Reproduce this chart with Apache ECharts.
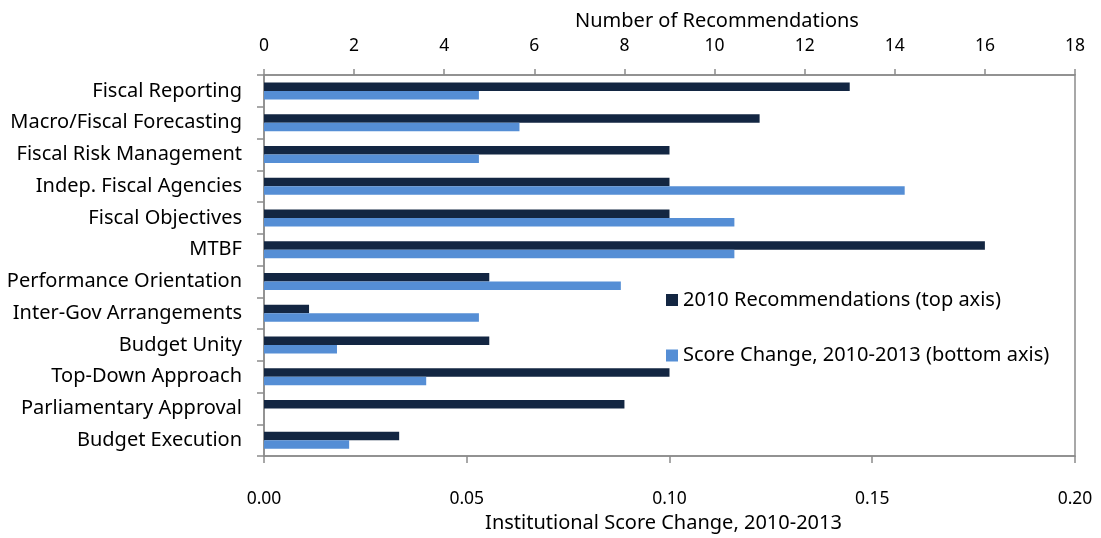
<!DOCTYPE html>
<html>
<head>
<meta charset="utf-8">
<script src="https://cdn.jsdelivr.net/npm/echarts@6/dist/echarts.min.js"></script>
<style>html,body{margin:0;padding:0;background:#fff;}#c{width:1101px;height:538px;}</style>
</head>
<body>
<div id="c"></div>
<script>
const categories = ["Fiscal Reporting","Macro/Fiscal Forecasting","Fiscal Risk Management","Indep. Fiscal Agencies","Fiscal Objectives","MTBF","Performance Orientation","Inter-Gov Arrangements","Budget Unity","Top-Down Approach","Parliamentary Approval","Budget Execution"];
const recommendations2010 = [13, 11, 9, 9, 9, 16, 5, 1, 5, 9, 8, 3];
const scoreChange = [0.053, 0.063, 0.053, 0.158, 0.116, 0.116, 0.088, 0.053, 0.018, 0.040, 0, 0.021];
const topTicks = {min: 0, max: 18, interval: 2};
const bottomTicks = {min: 0, max: 0.2, interval: 0.05};

const FONT = "Noto Sans";
const chart = echarts.init(document.getElementById('c'), null, {renderer: 'canvas'});
const axisLineStyle = {color: '#8c8c8c', width: 1.5};
chart.setOption({
  animation: false,
  textStyle: {fontFamily: FONT},
  grid: {left: 264, right: 26, top: 75, bottom: 73, show: true, borderColor: '#8c8c8c', borderWidth: 1.5},
  legend: {
    orient: 'vertical', left: 661, top: 285, itemGap: 35.5, itemWidth: 12, itemHeight: 12, icon: 'rect',
    itemStyle: {borderWidth: 0},
    textStyle: {fontFamily: FONT, fontSize: 20, color: '#000'},
    data: ['2010 Recommendations (top axis)', 'Score Change, 2010-2013 (bottom axis)']
  },
  xAxis: [
    {type: 'value', position: 'top', min: topTicks.min, max: topTicks.max, interval: topTicks.interval,
     name: 'Number of Recommendations', nameLocation: 'middle', nameGap: 44,
     nameTextStyle: {fontFamily: FONT, fontSize: 20, color: '#000', padding: [0, 0, 0, 95]},
     axisLine: {show: true, lineStyle: axisLineStyle}, axisTick: {show: true, length: 6, lineStyle: axisLineStyle},
     axisLabel: {fontFamily: FONT, fontSize: 17.5, color: '#000', margin: 20}, splitLine: {show: false}},
    {type: 'value', position: 'bottom', min: bottomTicks.min, max: bottomTicks.max, interval: bottomTicks.interval,
     name: 'Institutional Score Change, 2010-2013', nameLocation: 'middle', nameGap: 53,
     nameTextStyle: {fontFamily: FONT, fontSize: 20, color: '#000', padding: [0, 12, 0, 0]},
     axisLine: {show: true, lineStyle: axisLineStyle}, axisTick: {show: true, length: 7, lineStyle: axisLineStyle},
     axisLabel: {fontFamily: FONT, fontSize: 17.5, color: '#000', margin: 34, formatter: v => v.toFixed(2)}, splitLine: {show: false}}
  ],
  yAxis: {
    type: 'category', data: categories, inverse: true,
    axisLine: {show: true, lineStyle: axisLineStyle},
    axisTick: {show: true, length: 7, lineStyle: axisLineStyle},
    axisLabel: {fontFamily: FONT, fontSize: 20, color: '#000', margin: 22, padding: [4, 0, 0, 0]}
  },
  series: [
    {name: '2010 Recommendations (top axis)', type: 'bar', xAxisIndex: 0, data: recommendations2010,
     barWidth: 8.5, barGap: '0%', itemStyle: {color: '#132642'}},
    {name: 'Score Change, 2010-2013 (bottom axis)', type: 'bar', xAxisIndex: 1, data: scoreChange,
     barWidth: 8.5, barGap: '0%', itemStyle: {color: '#558ed5'}}
  ]
});
</script>
</body>
</html>
